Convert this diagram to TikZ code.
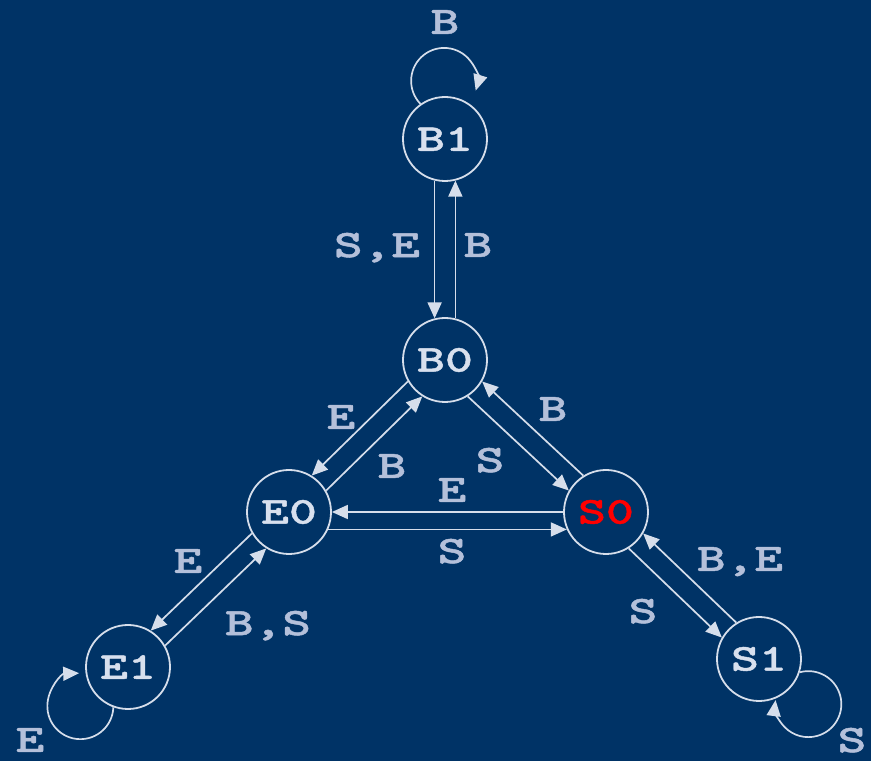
\documentclass[tikz,border=0pt]{standalone}
\usepackage{fontspec}
\usetikzlibrary{arrows.meta}
\newfontfamily\lblfont{lmmonolt10-bold.otf}[FakeStretch=1.4,FakeBold=1.2]
\definecolor{bgblue}{RGB}{0,51,102}
\definecolor{linecol}{RGB}{214,222,235}
\definecolor{lblcol}{RGB}{180,192,218}
\definecolor{nodetxt}{RGB}{216,224,238}
\tikzset{
  state/.style={circle,draw=linecol,line width=1.8pt,minimum size=84pt,inner sep=0pt,
    text=nodetxt,font=\lblfont\fontsize{38}{40}\selectfont},
  arr/.style={draw=linecol,line width=1.7pt,-{Triangle[length=16pt,width=14pt]}},
  lbl/.style={text=lblcol,font=\lblfont\fontsize{39}{41}\selectfont,inner sep=0pt,text depth=0pt}
}
\begin{document}
\begin{tikzpicture}[x=1pt,y=1pt]
\fill[bgblue] (0,0) rectangle (871,761);
\useasboundingbox (0,0) rectangle (871,761);
% states
\node[state] (B1) at (445,622) {B1};
\node[state] (B0) at (445,401) {B0};
\node[state] (E0) at (289,249) {E0};
\node[state,text=red] (S0) at (606,249) {S0};
\node[state] (E1) at (128,94) {E1};
\node[state] (S1) at (759,102) {S1};
% B1 <-> B0
\draw[arr] (B1.256) -- (B0.104);
\draw[arr] (B0.76) -- (B1.284);
% B0 <-> E0
\draw[arr] (B0.210) -- (E0.58);
\draw[arr] (E0.30) -- (B0.238);
% B0 <-> S0
\draw[arr] (B0.302.5) -- (S0.150.5);
\draw[arr] (S0.122.5) -- (B0.330.5);
% E0 <-> S0
\draw[arr] (S0.180) -- (E0.0);
\draw[arr] (E0.-24) -- (S0.204);
% E0 <-> E1
\draw[arr] (E0.210) -- (E1.58);
\draw[arr] (E1.30) -- (E0.238);
% S0 <-> S1
\draw[arr] (S0.302) -- (S1.150);
\draw[arr] (S1.122) -- (S0.330);
% loops
\draw[arr] (B1.125) arc[start angle=224,end angle=-17,radius=33];
\draw[arr] (E1.250) arc[start angle=-2,end angle=-268,radius=33];
\draw[arr] (S1.-18) arc[start angle=105,end angle=-187,radius=33];
% labels
\node[lbl] (lB1loop) at (445,739) {B};
\node[lbl] (lSE) at (377,516) {S,E};
\node[lbl] (lB10) at (478,516) {B};
\node[lbl] (lE1) at (341,344) {E};
\node[lbl] (lB2) at (392,295) {B};
\node[lbl] (lS1) at (490,301) {S};
\node[lbl] (lB3) at (553,352) {B};
\node[lbl] (lE2) at (452,271) {E};
\node[lbl] (lS2) at (452,210) {S};
\node[lbl] (lE3) at (188,200) {E};
\node[lbl] (lBS) at (268,138) {B,S};
\node[lbl] (lE4) at (30,21) {E};
\node[lbl] (lBE) at (740,202) {B,E};
\node[lbl] (lS3) at (643,150) {S};
\node[lbl] (lS4) at (852,21) {S};
\end{tikzpicture}
\end{document}
